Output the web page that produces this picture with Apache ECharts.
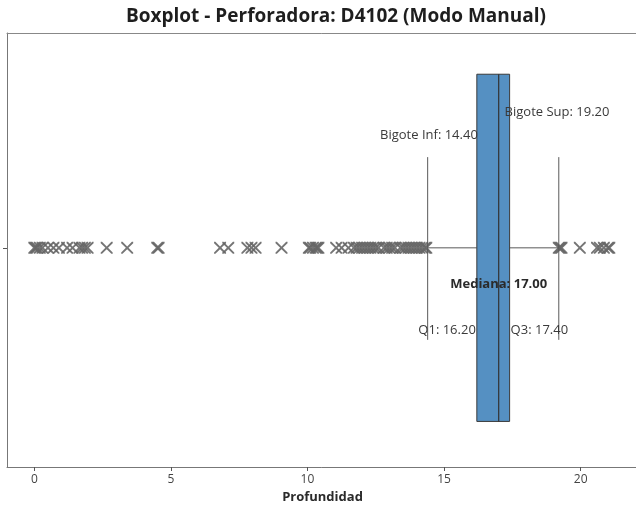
<!DOCTYPE html>
<html><head><meta charset="utf-8">
<script src="https://cdn.jsdelivr.net/npm/echarts@6/dist/echarts.min.js"></script>
<style>html,body{margin:0;padding:0;background:#fff}#c{width:636px;height:508px}</style>
</head><body><div id="c"></div>
<script>
const chartTitle = 'Boxplot - Perforadora: D4102 (Modo Manual)';
const axisTitle = 'Profundidad';
const xTicks = [0, 5, 10, 15, 20];
// [Bigote Inf, Q1, Mediana, Q3, Bigote Sup]
const boxStats = [14.4, 16.2, 17.0, 17.4, 19.2];
const statNames = ['Bigote Inf', 'Q1', 'Mediana', 'Q3', 'Bigote Sup'];
const outliers = [0, 0.05, 0.1, 0.2, 0.3, 0.5, 0.7, 0.9, 1.2, 1.4, 1.65, 1.75, 1.85, 1.95,
  2.65, 3.4, 4.5, 4.55, 6.8, 7.1, 7.8, 7.95, 8.1, 9.05,
  10.05, 10.1, 10.2, 10.3, 10.35, 10.4, 11.05, 11.25, 11.5, 11.7, 11.8, 11.9,
  12.0, 12.1, 12.2, 12.3, 12.4, 12.5, 12.6, 12.8, 12.9, 13.0, 13.1, 13.2, 13.4,
  13.5, 13.6, 13.7, 13.8, 13.9, 14.0, 14.1, 14.2, 14.3, 14.35,
  19.2, 19.25, 19.3, 19.97, 20.6, 20.7, 20.85, 21.0, 21.05];

const FONT = '"Open Sans", "Noto Sans", sans-serif';
const yC = 0.505;
const chart = echarts.init(document.getElementById('c'), null, {renderer: 'canvas'});

const xMark = 'path://M0,0 L1.1,0 L5,3.9 L8.9,0 L10,0 L10,1.1 L6.1,5 L10,8.9 L10,10 L8.9,10 L5,6.1 L1.1,10 L0,10 L0,8.9 L3.9,5 L0,1.1 Z';

function renderBox(params, api) {
  const lo = api.value(0), q1 = api.value(1), med = api.value(2), q3 = api.value(3), hi = api.value(4);
  const c = (x, y) => api.coord([x, y]);
  const lineStyle = {stroke: '#5a5a5a', lineWidth: 1};
  const bTop = c(q1, 0.905), bBot = c(q3, 0.105);
  const children = [];
  let a = c(lo, yC), b = c(q1, yC);
  children.push({type: 'line', shape: {x1: a[0], y1: a[1], x2: b[0], y2: b[1]}, style: lineStyle});
  a = c(q3, yC); b = c(hi, yC);
  children.push({type: 'line', shape: {x1: a[0], y1: a[1], x2: b[0], y2: b[1]}, style: lineStyle});
  [lo, hi].forEach(v => {
    const t = c(v, 0.714), u = c(v, 0.293);
    children.push({type: 'line', shape: {x1: t[0], y1: t[1], x2: u[0], y2: u[1]}, style: lineStyle});
  });
  children.push({type: 'rect', shape: {x: bTop[0], y: bTop[1], width: bBot[0] - bTop[0], height: bBot[1] - bTop[1]},
    style: {fill: '#5590c2', stroke: '#3a3a3a', lineWidth: 1}});
  const m1 = c(med, 0.905), m2 = c(med, 0.105);
  children.push({type: 'line', shape: {x1: m1[0], y1: m1[1], x2: m2[0], y2: m2[1]}, style: {stroke: '#333', lineWidth: 1.2}});
  const txt = (i, v) => statNames[i] + ': ' + v.toFixed(2);
  const pInf = c(q1, 0.765);
  children.push({type: 'text', x: pInf[0] + 1, y: pInf[1], z2: 10,
    style: {text: txt(0, lo), fill: '#3a3a3a', font: '13px ' + FONT, align: 'right', verticalAlign: 'middle'}});
  const pSup = c(q3, 0.818);
  children.push({type: 'text', x: pSup[0] - 5, y: pSup[1], z2: 10,
    style: {text: txt(4, hi), fill: '#3a3a3a', font: '13px ' + FONT, align: 'left', verticalAlign: 'middle'}});
  const pMed = c(med, 0.42);
  children.push({type: 'text', x: pMed[0], y: pMed[1], z2: 10,
    style: {text: txt(2, med), fill: '#2a2a2a', font: 'bold 13px ' + FONT, align: 'center', verticalAlign: 'middle'}});
  const pQ1 = c(q1, 0.316);
  children.push({type: 'text', x: pQ1[0] - 1, y: pQ1[1], z2: 10,
    style: {text: txt(1, q1), fill: '#3a3a3a', font: '13px ' + FONT, align: 'right', verticalAlign: 'middle'}});
  const pQ3 = c(q3, 0.316);
  children.push({type: 'text', x: pQ3[0] + 1, y: pQ3[1], z2: 10,
    style: {text: txt(3, q3), fill: '#3a3a3a', font: '13px ' + FONT, align: 'left', verticalAlign: 'middle'}});
  return {type: 'group', children: children};
}

const option = {
  animation: false,
  backgroundColor: '#ffffff',
  graphic: [{type: 'text', x: 336, y: 17, style: {text: chartTitle, font: 'bold 19px ' + FONT, fill: '#1e1e1e', align: 'center', verticalAlign: 'middle'}}],
  grid: {left: 7, right: -2, top: 33, bottom: 41, containLabel: false, outerBoundsMode: 'none'},
  xAxis: [{
    type: 'value', min: -1, max: 22.1, position: 'bottom',
    name: axisTitle, nameLocation: 'middle', nameGap: 23,
    nameTextStyle: {fontFamily: FONT, fontWeight: 'bold', fontSize: 13, color: '#2a2a2a'},
    axisLine: {show: true, onZero: false, lineStyle: {color: '#777', width: 1}},
    axisTick: {show: true, length: 4, customValues: xTicks, lineStyle: {color: '#555'}},
    axisLabel: {customValues: xTicks, fontFamily: FONT, fontSize: 12, color: '#444', margin: 7},
    splitLine: {show: false}
  }, {
    type: 'value', min: -1, max: 22.1, position: 'top',
    axisLine: {show: true, onZero: false, lineStyle: {color: '#888', width: 1}},
    axisTick: {show: false}, axisLabel: {show: false}, splitLine: {show: false}
  }],
  yAxis: {
    type: 'value', min: 0, max: 1,
    axisLine: {show: true, onZero: false, lineStyle: {color: '#777', width: 1}},
    axisTick: {show: true, length: 4, customValues: [yC], lineStyle: {color: '#555'}},
    axisLabel: {show: false}, splitLine: {show: false}
  },
  series: [{
    type: 'scatter', xAxisIndex: 0,
    data: outliers.map(v => [v, yC]),
    symbol: xMark, symbolSize: 12,
    itemStyle: {color: '#666', opacity: 0.9},
    silent: true, z: 2
  }, {
    type: 'custom', xAxisIndex: 0,
    data: [boxStats.concat([yC])],
    encode: {x: [0, 1, 2, 3, 4], y: 5},
    renderItem: renderBox, clip: false, z: 3, silent: true
  }]
};
chart.setOption(option);
</script></body></html>
